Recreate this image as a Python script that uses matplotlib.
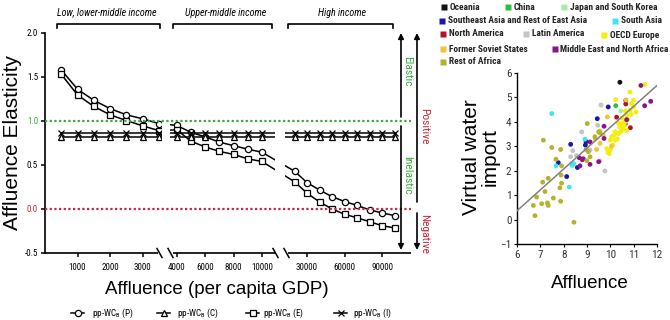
import numpy as np
import matplotlib
matplotlib.use('Agg')
import matplotlib.pyplot as plt
from matplotlib import font_manager as fm

# ---------------- data: affluence elasticity panel ----------------
gdp = [500, 1000, 1500, 2000, 2500, 3000, 3500,
       4000, 5000, 6000, 7000, 8000, 9000, 10000,
       20000, 30000, 40000, 50000, 60000, 70000, 80000, 90000, 100000]
elast_P = [1.58, 1.36, 1.235, 1.14, 1.07, 1.025, 0.97,
           0.95, 0.87, 0.82, 0.76, 0.72, 0.68, 0.645,
           0.43, 0.30, 0.215, 0.14, 0.085, 0.04, -0.01, -0.045, -0.075]
elast_C = [0.82, 0.82, 0.82, 0.82, 0.82, 0.82, 0.82,
           0.82, 0.82, 0.82, 0.82, 0.82, 0.82, 0.82,
           0.82, 0.82, 0.82, 0.82, 0.82, 0.82, 0.82, 0.82, 0.82]
elast_E = [1.53, 1.295, 1.165, 1.07, 1.005, 0.945, 0.89,
           0.90, 0.77, 0.705, 0.655, 0.62, 0.57, 0.54,
           0.31, 0.18, 0.08, 0.0, -0.06, -0.10, -0.145, -0.19, -0.215]
elast_I = [0.86, 0.86, 0.86, 0.86, 0.86, 0.86, 0.86,
           0.86, 0.86, 0.86, 0.86, 0.86, 0.86, 0.86,
           0.86, 0.86, 0.86, 0.86, 0.86, 0.86, 0.86, 0.86, 0.86]
series_names = ['pp-WC$_\\mathregular{B}$ (P)', 'pp-WC$_\\mathregular{B}$ (C)',
                'pp-WC$_\\mathregular{B}$ (E)', 'pp-WC$_\\mathregular{B}$ (I)']
gdp_ticks = [1000, 2000, 3000, 4000, 6000, 8000, 10000, 30000, 60000, 90000]
elast_ticks = [-0.5, 0.0, 0.5, 1.0, 1.5, 2.0]
income_groups = ['Low, lower-middle income', 'Upper-middle income', 'High income']

# ---------------- data: virtual water scatter ----------------
regions = ['Oceania', 'China', 'Japan and South Korea',
           'Southeast Asia and Rest of East Asia', 'South Asia',
           'North America', 'Latin America', 'OECD Europe',
           'Former Soviet States', 'Middle East and North Africa', 'Rest of Africa']
oceania_x = [10.41]
oceania_y = [5.62]
china_x = [10.23]
china_y = [4.66]
japan_x = [10.45]
japan_y = [4.45]
seasia_x = [8.30, 7.77, 8.13, 8.59, 8.96, 9.44, 9.91, 8.93]
seasia_y = [3.08, 2.33, 1.76, 2.13, 3.19, 4.13, 4.61, 3.05]
sasia_x = [7.49, 7.67, 8.44, 8.24, 8.91, 8.36]
sasia_y = [4.34, 2.20, 2.28, 1.33, 3.29, 2.22]
namerica_x = [10.66, 10.66, 10.27, 10.64, 10.86, 8.80]
namerica_y = [4.88, 4.73, 4.19, 3.92, 3.76, 2.45]
latam_x = [9.60, 9.46, 8.77, 8.39, 8.30, 9.13, 9.77, 9.55, 8.55]
latam_y = [4.69, 3.86, 3.59, 2.82, 2.57, 2.85, 1.99, 2.40, 2.62]
oecd_x = [11.49, 10.84, 10.23, 11.10, 9.90, 9.96, 10.00, 10.10, 10.20, 10.06, 10.34,
          10.41, 10.49, 10.63, 10.70, 10.84, 10.91, 10.99, 10.55, 10.30, 10.45, 10.60,
          10.75, 10.20, 10.50, 10.90, 10.35, 10.00, 9.85, 11.00, 10.70, 10.15, 10.65]
oecd_y = [5.53, 5.22, 4.91, 4.40, 2.75, 2.70, 2.85, 3.05, 3.25, 3.39, 3.52,
          3.79, 3.93, 4.00, 4.27, 4.47, 4.74, 4.88, 3.70, 3.30, 3.60, 3.85,
          4.10, 3.60, 4.15, 4.30, 3.95, 3.25, 2.90, 4.60, 3.65, 3.45, 4.45]
fsu_x = [9.56, 9.87, 9.56, 9.41, 10.67, 9.70, 10.05, 9.35]
fsu_y = [3.62, 4.20, 3.12, 2.87, 4.90, 3.45, 3.00, 3.30]
mena_x = [11.31, 11.73, 11.47, 10.70, 9.73, 9.13, 8.67, 8.84, 8.70, 9.13, 9.50, 9.73]
mena_y = [5.49, 4.84, 4.66, 4.09, 3.82, 3.18, 2.53, 2.49, 2.20, 2.26, 2.37, 3.32]
africa_x = [7.13, 7.49, 7.87, 7.67, 7.91, 7.10, 7.34, 7.89, 7.84, 7.91, 7.20, 6.84,
            7.56, 6.70, 7.06, 7.30, 7.34, 7.87, 6.77, 8.44, 9.01, 8.96, 9.50, 9.34,
            9.06, 9.13, 8.99, 9.55]
africa_y = [3.25, 2.95, 2.87, 2.47, 2.20, 1.53, 1.69, 1.82, 1.30, 1.49, 1.15, 0.92,
            0.88, 0.58, 0.65, 0.68, 0.58, 0.75, 0.16, -0.11, 3.93, 2.87, 3.59, 3.39,
            2.78, 2.57, 2.41, 3.55]
fit_x = [6.0, 12.0]
fit_y = [0.36, 5.49]

region_colors = ['#111111', '#2fbf3f', '#a6eea0', '#1616b0', '#3fe6f2',
                 '#b3122e', '#c4c4c4', '#f4ee10', '#f2c23a', '#8a1488', '#b5b22e']
region_x = [oceania_x, china_x, japan_x, seasia_x, sasia_x, namerica_x,
            latam_x, oecd_x, fsu_x, mena_x, africa_x]
region_y = [oceania_y, china_y, japan_y, seasia_y, sasia_y, namerica_y,
            latam_y, oecd_y, fsu_y, mena_y, africa_y]

# ---------------- fonts: prefer a narrow sans ----------------
ttf = fm.fontManager.ttflist
names = {f.name for f in ttf}
NFK = None
for c in ['Liberation Sans Narrow', 'Arial Narrow', 'Roboto Condensed',
          'Noto Sans Condensed', 'Open Sans Condensed', 'DejaVu Sans Condensed']:
    if c in names:
        NFK = dict(family=c)
        break
if NFK is None:
    for fam in ['Noto Sans', 'Roboto', 'Open Sans', 'DejaVu Sans']:
        if any(f.name == fam and 'condensed' in str(f.stretch) for f in ttf):
            NFK = dict(family=fam, stretch='condensed')
            break
if NFK is None:
    NFK = dict(family='Liberation Sans')

plt.rcParams['font.family'] = ['Liberation Sans', 'DejaVu Sans']
plt.rcParams['mathtext.default'] = 'regular'

W, H = 670, 320
fig = plt.figure(figsize=(W / 100, H / 100), dpi=100)
renderer = fig.canvas.get_renderer()


def fit(s, target, **kw):
    t = fig.text(0, 0, s, size=10, **NFK, **kw)
    w = t.get_window_extent(renderer=renderer).width
    t.remove()
    return 10.0 * target / w


TICK_SZ = fit('10000', 22)
BR_SZ = fit('Low, lower-middle income', 100, style='italic')
ANN_SZ = fit('Inelastic', 38)
LEG_SZ = fit('pp-WC$_\\mathregular{B}$ (P)', 41)
RLEG_SZ = fit('Southeast Asia and Rest of East Asia', 139, weight='bold')
STICK_SZ = fit('10', 11)


def fbox(l, t, r, b):
    return [l / W, 1 - b / H, (r - l) / W, (b - t) / H]


GREEN = '#3aa83a'
RED = '#c4283a'

# ---------------- left panel ----------------
ax = fig.add_axes(fbox(45, 33, 411, 253))
xk = [0, 3500, 4000, 10000, 20000, 113000]
uk = [45.5, 159.3, 177, 262, 294.5, 410.75]


def fwd(x):
    return np.interp(x, xk, uk)


def inv(u):
    return np.interp(u, uk, xk)


ax.set_xscale('function', functions=(fwd, inv))
ax.set_xlim(0, 113000)
ax.set_ylim(-0.5, 2.0)

style = dict(color='black', lw=1.1, ms=4.5, mew=0.9, mfc='white', zorder=2)
ax.plot(gdp, elast_P, marker='o', **style)
ax.plot(gdp, elast_E, marker='s', **style)
ax.plot(gdp, elast_C, marker='^', **style)
ax.plot(gdp, elast_I, marker='x', **style)

for g0, g1 in [(162, 170), (275.5, 285.5)]:
    ax.axvspan(inv(g0), inv(g1), color='white', lw=0, zorder=2.5)

ax.axhline(1.0, color=GREEN, ls=(0, (1, 1.1)), lw=1.6, zorder=3)
ax.axhline(0.0, color=RED, ls=(0, (1, 1.1)), lw=1.6, zorder=3)

ax.set_xticks(gdp_ticks)
ax.set_xticklabels([str(v) for v in gdp_ticks], size=TICK_SZ, **NFK)
ax.set_yticks(elast_ticks)
ylabs = ax.set_yticklabels(['%.1f' % v for v in elast_ticks], size=TICK_SZ, **NFK)
for lab, v in zip(ylabs, elast_ticks):
    if v == 1.0:
        lab.set_color(GREEN)
    elif v == 0.0:
        lab.set_color(RED)
ax.tick_params(axis='both', direction='out', length=3, width=1.1, pad=2)
ax.tick_params(axis='x', pad=4)
for s in ['top', 'right', 'bottom']:
    ax.spines[s].set_visible(False)
ax.spines['left'].set_linewidth(1.2)

# ---------------- scatter panel ----------------
sx = fig.add_axes(fbox(517, 73, 657, 244))
for xs, ys, c in zip(region_x, region_y, region_colors):
    sx.scatter(xs, ys, s=12, color=c, edgecolors='none', zorder=2)
sx.plot(fit_x, fit_y, color='#808080', lw=1.1, zorder=3)
sx.set_xlim(6, 12)
sx.set_ylim(-1, 6)
sx.set_xticks(range(6, 13))
sx.set_yticks(range(-1, 7))
sx.tick_params(axis='both', direction='out', length=2, width=0.8, pad=2,
               labelsize=STICK_SZ, labelcolor='#333333')
for lab in sx.get_xticklabels() + sx.get_yticklabels():
    lab.set_fontproperties(fm.FontProperties(size=STICK_SZ, **NFK))
for s in ['top', 'right']:
    sx.spines[s].set_visible(False)
for s in ['left', 'bottom']:
    sx.spines[s].set_linewidth(1.0)

# ---------------- overlay (pixel coordinates) ----------------
ov = fig.add_axes([0, 0, 1, 1], zorder=10)
ov.set_xlim(0, W)
ov.set_ylim(H, 0)
ov.axis('off')
ov.patch.set_alpha(0)

ov.text(12.5, 143, 'Affluence Elasticity', rotation=90, ha='center', va='center',
        fontsize=15)
ov.text(217, 289, 'Affluence (per capita GDP)', ha='center', va='center', fontsize=13.5)

# broken bottom axis
for x0, x1 in [(45, 158), (173, 275), (288, 411)]:
    ov.plot([x0, x1], [253, 253], color='black', lw=1.2, solid_capstyle='butt')
for xs in [157, 168, 273, 284]:
    ov.plot([xs, xs + 5], [248.5, 257.5], color='black', lw=1.1)

# income brackets
for (x0, x1), tx, lab in zip([(57, 160), (173, 272), (288, 393)], [107, 226, 342], income_groups):
    ov.plot([x0, x0, x1, x1], [28, 23.5, 23.5, 28], color='black', lw=1.2)
    ov.text(tx, 12.5, lab, ha='center', va='center', style='italic', size=BR_SZ, **NFK)

# elasticity arrows
arr = dict(arrowstyle='-|>', color='black', lw=1.2, mutation_scale=8, shrinkA=0, shrinkB=0)
ov.annotate('', xy=(401, 33), xytext=(401, 117), arrowprops=arr)
ov.annotate('', xy=(401, 250), xytext=(401, 126), arrowprops=arr)
ov.annotate('', xy=(417, 33), xytext=(417, 202), arrowprops=arr)
ov.annotate('', xy=(417, 250), xytext=(417, 213), arrowprops=arr)
for (tx, ty), lab, col in zip([(407.5, 71), (407.5, 175), (424, 126), (424, 234)],
                              ['Elastic', 'Inelastic', 'Positive', 'Negative'],
                              [GREEN, GREEN, RED, RED]):
    ov.text(tx, ty, lab, color=col, rotation=-90, ha='center', va='center',
            size=ANN_SZ, **NFK)

# bottom legend of left panel
for (l0, l1), tx, mk, name in zip([(71, 84), (157, 170), (246, 259), (334, 347)],
                                  [92, 177, 263, 353], ['o', '^', 's', 'x'], series_names):
    ov.plot([l0, l1], [313, 313], color='black', lw=1.1)
    ov.plot([(l0 + l1) / 2], [313], marker=mk, color='black', mfc='white', ms=4.5, mew=0.9)
    ov.text(tx, 313, name, ha='left', va='center', size=LEG_SZ, **NFK)

# scatter legend
leg_pos = [(443.5, 7), (507.5, 7), (563.5, 7), (442, 20.5), (615, 20.5),
           (443, 34), (525.5, 34), (604, 35), (443, 49), (554.5, 49), (443, 62)]
for (px, py), c, name in zip(leg_pos, region_colors, regions):
    ov.plot([px], [py], marker='s', ms=4.3, color=c, mec='none')
    ov.text(px + 6, py, name, ha='left', va='center', weight='bold',
            size=RLEG_SZ, color='#222222', **NFK)

ov.text(481, 157, 'Virtual water\nimport', rotation=90, ha='center', va='center',
        fontsize=15, linespacing=1.0, multialignment='center')
ov.text(590, 283, 'Affluence', ha='center', va='center', fontsize=13.5)

fig.savefig('out.png', dpi=100)
